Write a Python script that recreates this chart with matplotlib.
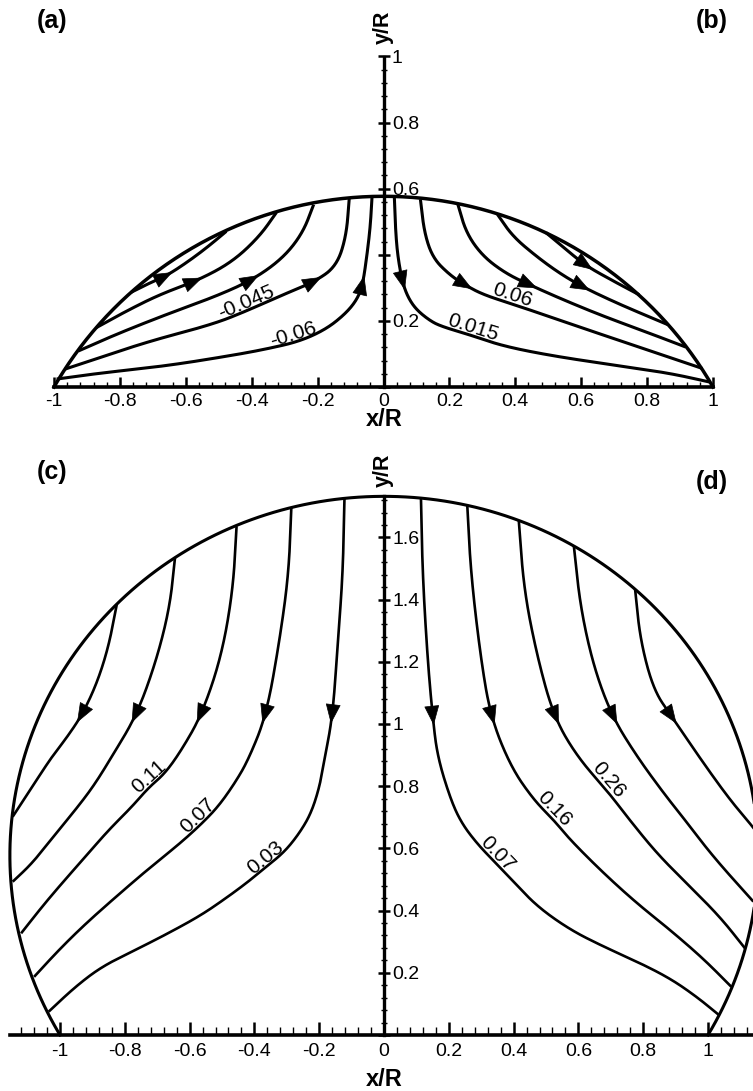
import numpy as np
import matplotlib.pyplot as plt
from matplotlib.ticker import MultipleLocator, FuncFormatter

plt.rcParams['font.family'] = ['Liberation Sans', 'DejaVu Sans']
plt.rcParams['axes.unicode_minus'] = False

# drop heights over a unit base radius (spherical caps)
cap_h_top = 0.577
cap_h_bottom = 1.732

# streamlines as (x/R, y/R) points, listed in the flow direction
lines_a = [
    [(-0.765, 0.287), (-0.709, 0.315), (-0.658, 0.337), (-0.598, 0.376), (-0.537, 0.421), (-0.477, 0.471)],
    [(-0.871, 0.180), (-0.780, 0.230), (-0.679, 0.280), (-0.558, 0.325), (-0.457, 0.380), (-0.376, 0.456),
     (-0.325, 0.528)],
    [(-0.926, 0.109), (-0.810, 0.160), (-0.658, 0.220), (-0.507, 0.275), (-0.396, 0.325), (-0.305, 0.390),
     (-0.245, 0.466), (-0.212, 0.552)],
    [(-0.967, 0.054), (-0.861, 0.089), (-0.709, 0.139), (-0.517, 0.190), (-0.416, 0.230), (-0.320, 0.273),
     (-0.210, 0.318), (-0.143, 0.365), (-0.113, 0.456), (-0.104, 0.570)],
    [(-0.992, 0.024), (-0.861, 0.042), (-0.658, 0.064), (-0.457, 0.096), (-0.355, 0.115), (-0.255, 0.138),
     (-0.174, 0.175), (-0.115, 0.222), (-0.080, 0.265), (-0.063, 0.310), (-0.050, 0.400), (-0.040, 0.486),
     (-0.035, 0.572)],
]
labels_a = [None, None, None, '-0.045', '-0.06']
label_x_a = [None, None, None, -0.406, -0.267]
arrow_y_a = [0.335, 0.320, 0.325, 0.320, 0.310]

lines_b = [
    [(0.033, 0.572), (0.037, 0.466), (0.044, 0.390), (0.058, 0.315), (0.075, 0.270), (0.099, 0.235),
     (0.135, 0.205), (0.170, 0.185), (0.271, 0.155), (0.362, 0.124), (0.513, 0.094), (0.715, 0.064),
     (0.867, 0.042), (0.990, 0.015)],
    [(0.112, 0.568), (0.124, 0.466), (0.150, 0.390), (0.200, 0.340), (0.245, 0.310), (0.301, 0.280),
     (0.394, 0.250), (0.483, 0.220), (0.614, 0.175), (0.766, 0.124), (0.968, 0.056)],
    [(0.225, 0.555), (0.251, 0.466), (0.301, 0.396), (0.372, 0.343), (0.448, 0.307), (0.543, 0.265),
     (0.665, 0.215), (0.796, 0.167), (0.917, 0.121)],
    [(0.346, 0.522), (0.392, 0.456), (0.463, 0.396), (0.533, 0.345), (0.604, 0.303), (0.695, 0.260),
     (0.776, 0.225), (0.862, 0.189)],
    [(0.493, 0.467), (0.554, 0.416), (0.614, 0.367), (0.695, 0.322), (0.776, 0.279)],
]
labels_b = ['0.015', '0.06', None, None, None]
label_x_b = [0.264, 0.382, None, None, None]
arrow_y_b = [0.320, 0.310, 0.310, 0.305, 0.370]

lines_c = [
    [(-0.122, 1.726), (-0.127, 1.485), (-0.142, 1.270), (-0.158, 1.029), (-0.184, 0.884), (-0.199, 0.798),
     (-0.225, 0.713), (-0.261, 0.649), (-0.307, 0.589), (-0.363, 0.541), (-0.419, 0.493), (-0.481, 0.445),
     (-0.563, 0.386), (-0.666, 0.327), (-0.768, 0.273), (-0.871, 0.220), (-0.953, 0.155), (-1.035, 0.075)],
    [(-0.286, 1.696), (-0.294, 1.485), (-0.322, 1.270), (-0.363, 1.029), (-0.419, 0.884), (-0.461, 0.809),
     (-0.512, 0.734), (-0.566, 0.676), (-0.632, 0.614), (-0.717, 0.543), (-0.819, 0.452), (-0.922, 0.357),
     (-1.004, 0.273), (-1.080, 0.187)],
    [(-0.455, 1.636), (-0.466, 1.431), (-0.502, 1.216), (-0.563, 1.029), (-0.625, 0.916), (-0.676, 0.841),
     (-0.727, 0.795), (-0.778, 0.734), (-0.850, 0.659), (-0.922, 0.573), (-0.994, 0.488), (-1.055, 0.413),
     (-1.120, 0.327)],
    [(-0.645, 1.535), (-0.661, 1.377), (-0.702, 1.206), (-0.763, 1.029), (-0.840, 0.895), (-0.891, 0.809),
     (-0.940, 0.740), (-1.025, 0.632), (-1.086, 0.552), (-1.146, 0.493)],
    [(-0.825, 1.383), (-0.850, 1.249), (-0.886, 1.131), (-0.932, 1.029), (-0.980, 0.955), (-1.025, 0.895),
     (-1.086, 0.798), (-1.146, 0.702)],
]
labels_c = ['0.03', '0.07', '0.11', None, None]
label_x_c = [-0.351, -0.556, -0.710, None, None]
arrow_y_c = [1.030, 1.030, 1.030, 1.030, 1.030]

lines_d = [
    [(0.114, 1.729), (0.119, 1.485), (0.134, 1.216), (0.150, 1.024), (0.165, 0.895), (0.206, 0.756),
     (0.240, 0.680), (0.290, 0.612), (0.345, 0.553), (0.401, 0.492), (0.473, 0.413), (0.575, 0.338),
     (0.678, 0.284), (0.781, 0.236), (0.883, 0.182), (0.965, 0.123), (1.033, 0.065)],
    [(0.257, 1.703), (0.268, 1.485), (0.298, 1.216), (0.329, 1.024), (0.391, 0.863), (0.462, 0.756),
     (0.524, 0.691), (0.575, 0.627), (0.678, 0.520), (0.781, 0.423), (0.883, 0.338), (0.986, 0.245),
     (1.072, 0.155)],
    [(0.416, 1.654), (0.432, 1.431), (0.473, 1.216), (0.524, 1.024), (0.596, 0.895), (0.693, 0.780),
     (0.750, 0.702), (0.842, 0.584), (0.934, 0.488), (1.037, 0.380), (1.114, 0.279)],
    [(0.586, 1.572), (0.606, 1.377), (0.647, 1.184), (0.704, 1.024), (0.781, 0.895), (0.865, 0.775),
     (0.930, 0.690), (1.016, 0.573), (1.140, 0.429)],
    [(0.775, 1.433), (0.791, 1.270), (0.832, 1.109), (0.888, 1.024), (0.986, 0.874), (1.068, 0.756),
     (1.129, 0.681), (1.152, 0.650)],
]
labels_d = ['0.07', '0.16', '0.26', None, None]
label_x_d = [0.333, 0.507, 0.674, None, None]
arrow_y_d = [1.025, 1.025, 1.025, 1.025, 1.025]

W, H = 753, 1091
fig = plt.figure(figsize=(W / 100, H / 100), dpi=100)


def cap_outline(h, n=400):
    yc = (h * h - 1) / (2 * h)
    r = (1 + h * h) / (2 * h)
    t0 = np.arctan2(-yc, 1.0)
    t = np.linspace(t0, np.pi - t0, n)
    return r * np.cos(t), yc + r * np.sin(t)


def smooth(pts, it=5):
    # Chaikin corner cutting, end points kept
    P = np.asarray(pts, float)
    for _ in range(it):
        q = 0.75 * P[:-1] + 0.25 * P[1:]
        r = 0.25 * P[:-1] + 0.75 * P[1:]
        mid = np.empty((2 * len(q), 2))
        mid[0::2] = q
        mid[1::2] = r
        P = np.vstack([P[:1], mid, P[-1:]])
    return P


def crossing(c, v, col):
    d = c[:, col] - v
    i = np.nonzero(d[:-1] * d[1:] <= 0)[0][0]
    f = d[i] / (d[i] - d[i + 1])
    return c[i] + f * (c[i + 1] - c[i]), i


def screen_dir(ax, c, i):
    j0, j1 = max(i - 3, 0), min(i + 4, len(c) - 1)
    a, b = ax.transData.transform(c[[j0, j1]])
    v = b - a
    return v / np.hypot(*v)


def add_arrow(ax, c, yv, size=18):
    p, i = crossing(c, yv, 1)
    d = screen_dir(ax, c, i)
    P = ax.transData.transform(p)
    inv = ax.transData.inverted()
    ax.annotate('', xy=inv.transform(P + d * size / 2), xytext=inv.transform(P - d * size / 2),
                arrowprops=dict(arrowstyle='-|>,head_length=1.3,head_width=0.5', mutation_scale=10,
                                fc='k', ec='k', lw=0.5, shrinkA=0, shrinkB=0),
                annotation_clip=False, zorder=4)


def add_label(ax, c, xv, text):
    # value sits on the streamline, baseline along the curve
    p, i = crossing(c, xv, 0)
    d = screen_dir(ax, c, i)
    ang = np.degrees(np.arctan2(d[1], d[0]))
    if ang > 90:
        ang -= 180
    elif ang <= -90:
        ang += 180
    a = np.radians(ang)
    up = np.array([-np.sin(a), np.cos(a)])
    P = ax.transData.transform(p) + up * 2.5
    q = ax.transData.inverted().transform(P)
    ax.text(q[0], q[1], text, rotation=ang, rotation_mode='anchor', ha='center', va='baseline',
            fontsize=15, zorder=5)


def draw_half(ax, lines, labels, label_x, arrow_y, lw):
    for pts, lab, lx, ay in zip(lines, labels, label_x, arrow_y):
        c = smooth(pts)
        ax.plot(c[:, 0], c[:, 1], color='k', lw=lw, clip_on=False, zorder=3, solid_capstyle='butt')
        add_arrow(ax, c, ay)
        if lab:
            add_label(ax, c, lx, lab)


def tick_fmt(hide=()):
    def f(v, pos):
        v = round(v, 2)
        if abs(v) < 1e-9:
            return '' if 0 in hide else '0'
        if any(abs(v - h) < 1e-9 for h in hide):
            return ''
        return '%g' % v
    return FuncFormatter(f)


def style_axes(ax, xl, yl, x_len, x_pad, y_hide):
    ax.set_xlim(*xl)
    ax.set_ylim(*yl)
    ax.set_facecolor('none')
    ax.spines['left'].set_visible(False)
    ax.spines['top'].set_visible(False)
    ax.spines['right'].set_position(('data', 0))
    ax.spines['right'].set_linewidth(2.4)
    ax.spines['bottom'].set_linewidth(2.6)
    ax.yaxis.tick_right()
    ax.xaxis.set_major_locator(MultipleLocator(0.2))
    ax.xaxis.set_minor_locator(MultipleLocator(0.04))
    ax.yaxis.set_major_locator(MultipleLocator(0.2))
    ax.yaxis.set_minor_locator(MultipleLocator(0.04))
    ax.xaxis.set_major_formatter(tick_fmt())
    ax.yaxis.set_major_formatter(tick_fmt(y_hide))
    ax.tick_params(axis='x', which='major', direction='in', length=x_len[0], width=1.8,
                   labelsize=14, pad=x_pad)
    ax.tick_params(axis='x', which='minor', direction='in', length=x_len[1], width=1.0)
    ax.tick_params(axis='y', which='major', direction='inout', length=9, width=1.8,
                   labelsize=14, pad=1.5)
    ax.tick_params(axis='y', which='minor', direction='inout', length=5, width=1.0)


def px_axes(x0, x1, ytop, ybot):
    return fig.add_axes([x0 / W, 1 - ybot / H, (x1 - x0) / W, (ybot - ytop) / H])


# (a)/(b): flat drop
ax1 = px_axes(54, 713, 56.5, 387)
style_axes(ax1, (-1, 1), (0, 1), (7.5, 3.8), 4, (0, 0.4))
bx, by = cap_outline(cap_h_top)
ax1.plot(bx, by, color='k', lw=2.5, clip_on=False, zorder=3)
draw_half(ax1, lines_a, labels_a, label_x_a, arrow_y_a, 2.2)
draw_half(ax1, lines_b, labels_b, label_x_b, arrow_y_b, 2.2)

# (c)/(d): tall drop
x_lo, x_hi = -1.155, 1.155
ax2 = px_axes(384 + 324 * x_lo, 384 + 324 * x_hi, 1035 - 311 * cap_h_bottom, 1035)
style_axes(ax2, (x_lo, x_hi), (0, cap_h_bottom), (9.5, 5.5), 6, (0,))
bx, by = cap_outline(cap_h_bottom)
ax2.plot(bx, by, color='k', lw=2.2, clip_on=False, zorder=3)
draw_half(ax2, lines_c, labels_c, label_x_c, arrow_y_c, 1.9)
draw_half(ax2, lines_d, labels_d, label_x_d, arrow_y_d, 1.9)

title_kw = dict(ha='center', va='center', fontweight='bold')
fig.text(384 / W, 1 - 419 / H, 'x/R', fontsize=17, **title_kw)
fig.text(384 / W, 1 - 1079 / H, 'x/R', fontsize=17, **title_kw)
fig.text(383 / W, 1 - 27 / H, 'y/R', fontsize=15.5, rotation=90, **title_kw)
fig.text(383 / W, 1 - 470 / H, 'y/R', fontsize=15.5, rotation=90, **title_kw)

for txt, x, y in [('(a)', 52, 21), ('(b)', 712, 21), ('(c)', 52, 472), ('(d)', 712, 482)]:
    fig.text(x / W, 1 - y / H, txt, fontsize=18, **title_kw)

fig.savefig('out.png', dpi=100)
